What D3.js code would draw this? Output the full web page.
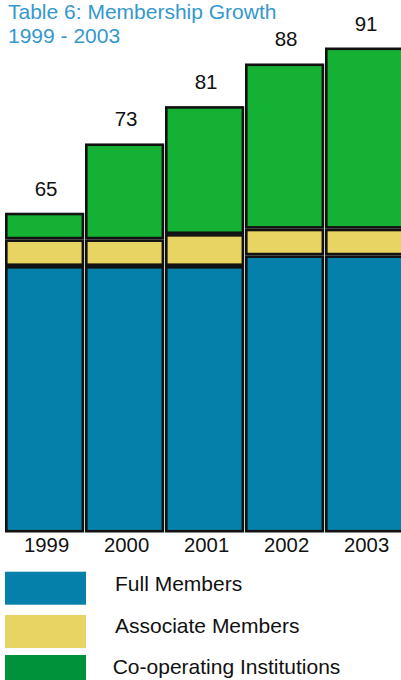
<!DOCTYPE html>
<html>
<head>
<meta charset="utf-8">
<script src="https://cdn.jsdelivr.net/npm/d3@7/dist/d3.min.js"></script>
<style>
  html, body { margin: 0; padding: 0; background: #fff; }
  svg { display: block; font-family: "Liberation Sans", Arial, Helvetica, sans-serif; }
</style>
</head>
<body>
<svg id="chart" width="401" height="680"></svg>
<script>
// ---- data ----
const years = ["1999", "2000", "2001", "2002", "2003"];
const fullMembers = [50, 50, 50, 52, 52];
const associateMembers = [5, 5, 6, 5, 5];
const cooperatingInstitutions = [5, 18, 24, 31, 34];
const totalLabels = ["65", "73", "81", "88", "91"];
const seriesNames = ["Full Members", "Associate Members", "Co-operating Institutions"];
const titleLines = ["Table 6: Membership Growth", "1999 - 2003"];

// ---- styles ----
const barColors = ["#0480aa", "#e8d462", "#14b134"];
const legendColors = ["#0480aa", "#e8d462", "#00923a"];
const legendTops = [571.7, 615, 655];
const legendBaselines = [590.7, 633.3, 673.5];
const legendTextX = [115, 115, 112.7];

const svg = d3.select("#chart");

const rows = years.map((y, i) => ({
  year: y,
  full: fullMembers[i],
  assoc: associateMembers[i],
  coop: cooperatingInstitutions[i],
  label: totalLabels[i]
}));

const keys = ["full", "assoc", "coop"];
const stacked = d3.stack().keys(keys)(rows);

const x = d3.scaleBand().domain(years).range([5, 405]).paddingInner(0).paddingOuter(0);
const y = d3.scaleLinear().domain([0, 91]).range([532.5, 47.5]);

const sw = 2.6;
const gap = 0.8;

// bars
const layers = svg.append("g").selectAll("g")
  .data(stacked)
  .join("g")
  .attr("fill", (d, i) => barColors[i]);

layers.selectAll("rect")
  .data(d => d)
  .join("rect")
  .attr("x", d => x(d.data.year) + sw / 2)
  .attr("width", x.bandwidth() - sw - gap)
  .attr("y", d => y(d[1]) + sw / 2)
  .attr("height", d => y(d[0]) - y(d[1]) - sw)
  .attr("stroke", "#111")
  .attr("stroke-width", sw);

// total labels
svg.append("g").selectAll("text")
  .data(rows)
  .join("text")
  .attr("x", d => x(d.year) + (x.bandwidth() - gap) / 2 + 1.5)
  .attr("y", d => y(d.full + d.assoc + d.coop) - 17)
  .attr("text-anchor", "middle")
  .attr("font-size", 20.5)
  .attr("fill", "#111")
  .text(d => d.label);

// year axis labels
const xAxis = d3.axisBottom(x).tickSize(0).tickPadding(0);
const axisG = svg.append("g")
  .attr("transform", "translate(2,0)")
  .call(xAxis);
axisG.select(".domain").remove();
axisG.selectAll("text")
  .attr("y", 552)
  .attr("dy", 0)
  .attr("dx", -0.4)
  .attr("font-size", 20.3)
  .attr("font-family", "Liberation Sans, Arial, sans-serif")
  .attr("fill", "#111");

// title
svg.append("text")
  .attr("x", 8)
  .attr("y", 19.3)
  .attr("font-size", 21)
  .attr("fill", "#3598cd")
  .selectAll("tspan")
  .data(titleLines)
  .join("tspan")
  .attr("x", 8)
  .attr("dy", (d, i) => i === 0 ? 0 : 23.4)
  .text(d => d);

// legend
const legend = svg.append("g").selectAll("g")
  .data(seriesNames)
  .join("g");

legend.append("rect")
  .attr("x", 5)
  .attr("y", (d, i) => legendTops[i])
  .attr("width", 81)
  .attr("height", 33)
  .attr("fill", (d, i) => legendColors[i]);

legend.append("text")
  .attr("x", (d, i) => legendTextX[i])
  .attr("y", (d, i) => legendBaselines[i])
  .attr("font-size", 21)
  .attr("fill", "#111")
  .text(d => d);
</script>
</body>
</html>
